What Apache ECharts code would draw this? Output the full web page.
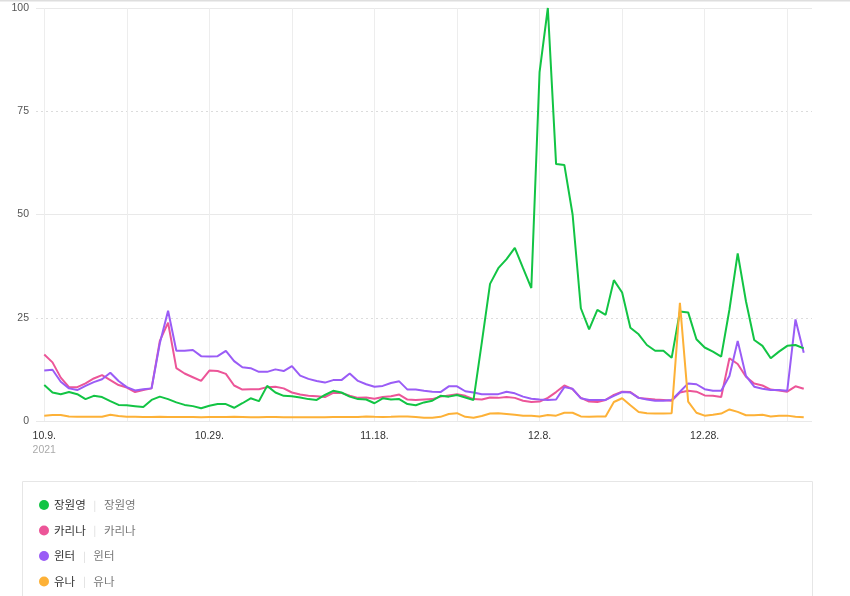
<!DOCTYPE html>
<html><head><meta charset="utf-8">
<script src="https://cdn.jsdelivr.net/npm/echarts@6/dist/echarts.min.js"></script>
<style>html,body{margin:0;padding:0;background:#fff}#c{width:850px;height:596px}</style>
</head><body><div id="c"></div>
<script>
// day labels, 2021-10-09 .. 2022-01-09
const dates = [
 '10.9.','10.10.','10.11.','10.12.','10.13.','10.14.','10.15.','10.16.','10.17.','10.18.',
 '10.19.','10.20.','10.21.','10.22.','10.23.','10.24.','10.25.','10.26.','10.27.','10.28.',
 '10.29.','10.30.','10.31.','11.1.','11.2.','11.3.','11.4.','11.5.','11.6.','11.7.',
 '11.8.','11.9.','11.10.','11.11.','11.12.','11.13.','11.14.','11.15.','11.16.','11.17.',
 '11.18.','11.19.','11.20.','11.21.','11.22.','11.23.','11.24.','11.25.','11.26.','11.27.',
 '11.28.','11.29.','11.30.','12.1.','12.2.','12.3.','12.4.','12.5.','12.6.','12.7.',
 '12.8.','12.9.','12.10.','12.11.','12.12.','12.13.','12.14.','12.15.','12.16.','12.17.',
 '12.18.','12.19.','12.20.','12.21.','12.22.','12.23.','12.24.','12.25.','12.26.','12.27.',
 '12.28.','12.29.','12.30.','12.31.','1.1.','1.2.','1.3.','1.4.','1.5.','1.6.',
 '1.7.','1.8.','1.9.'
];
const yearLabel = '2021';
const labelDays = [0, 20, 40, 60, 80];
const gridDays = [0, 10, 20, 30, 40, 50, 60, 70, 80, 90];
const seriesNames = ['장원영', '카리나', '윈터', '유나'];

const jangWonyoung = [
 8.7, 6.9, 6.5, 7.0, 6.5, 5.3, 6.1, 5.8, 4.8, 3.9,
 3.8, 3.6, 3.4, 5.1, 5.9, 5.3, 4.5, 3.9, 3.6, 3.1,
 3.7, 4.1, 4.1, 3.2, 4.3, 5.5, 4.8, 8.5, 6.9, 6.1,
 6.0, 5.7, 5.3, 5.1, 6.3, 7.3, 6.9, 5.9, 5.3, 5.2,
 4.3, 5.5, 5.2, 5.3, 4.1, 3.8, 4.5, 4.9, 6.1, 5.9,
 6.3, 5.7, 5.1, 19.0, 33.2, 37.0, 39.2, 41.9, 37.0, 32.2,
 84.5, 100, 62.2, 62.0, 50.0, 27.3, 22.2, 26.9, 25.7, 34.1,
 31.1, 22.6, 21.0, 18.4, 17.0, 17.0, 15.3, 26.5, 26.3, 19.8,
 17.8, 16.8, 15.6, 27.0, 40.6, 29.0, 19.6, 18.2, 15.2, 16.8,
 18.2, 18.4, 17.6
];
const karina = [
 16.1, 14.2, 10.5, 8.2, 8.2, 9.1, 10.3, 11.1, 9.9, 8.7,
 8.1, 7.0, 7.5, 7.9, 19.4, 23.8, 12.8, 11.5, 10.6, 9.7,
 12.2, 12.1, 11.4, 8.6, 7.6, 7.7, 7.7, 8.2, 8.3, 7.9,
 6.9, 6.4, 6.1, 6.0, 5.8, 6.8, 6.8, 6.1, 5.6, 5.7,
 5.4, 5.8, 6.0, 6.4, 5.2, 5.1, 5.2, 5.3, 5.9, 6.2,
 6.5, 6.1, 5.3, 5.2, 5.7, 5.6, 5.8, 5.6, 4.9, 4.6,
 4.7, 5.6, 7.0, 8.6, 7.7, 5.6, 4.7, 4.6, 5.1, 6.3,
 7.1, 7.0, 5.6, 5.4, 5.2, 5.1, 4.9, 6.9, 7.3, 7.1,
 6.2, 6.1, 5.8, 15.2, 13.8, 10.7, 9.1, 8.6, 7.6, 7.4,
 7.1, 8.4, 7.8
];
const winter = [
 12.2, 12.4, 9.5, 7.9, 7.5, 8.5, 9.4, 10.1, 11.7, 9.7,
 8.2, 7.4, 7.7, 7.9, 18.8, 26.7, 17.0, 17.0, 17.2, 15.7,
 15.6, 15.7, 17.0, 14.5, 13.0, 12.8, 11.9, 11.9, 12.5, 12.1,
 13.3, 11.0, 10.2, 9.7, 9.3, 9.9, 9.9, 11.5, 9.7, 8.9,
 8.3, 8.5, 9.2, 9.6, 7.6, 7.6, 7.3, 7.1, 7.0, 8.4,
 8.4, 7.2, 6.9, 6.5, 6.5, 6.5, 7.1, 6.7, 5.9, 5.4,
 5.2, 5.1, 5.2, 8.2, 7.8, 5.5, 5.1, 5.1, 5.1, 6.1,
 7.0, 6.9, 5.6, 5.2, 4.9, 4.9, 5.1, 7.1, 9.1, 8.9,
 7.7, 7.3, 7.3, 10.9, 19.4, 10.9, 8.3, 7.8, 7.5, 7.5,
 7.3, 24.6, 16.5
];
const yuna = [
 1.3, 1.45, 1.45, 1.1, 1.0, 1.0, 1.0, 1.05, 1.5, 1.2,
 1.0, 1.0, 0.95, 0.95, 1.0, 0.95, 0.95, 0.95, 0.95, 0.9,
 0.95, 0.95, 0.95, 1.0, 0.95, 0.9, 0.9, 0.95, 0.95, 0.9,
 0.9, 0.9, 0.9, 0.9, 0.9, 0.95, 0.95, 0.95, 0.95, 1.1,
 1.0, 0.95, 1.0, 1.1, 1.1, 0.95, 0.8, 0.8, 1.0, 1.7,
 1.9, 1.0, 0.8, 1.2, 1.8, 1.9, 1.7, 1.5, 1.3, 1.3,
 1.1, 1.45, 1.3, 2.0, 2.0, 1.1, 1.05, 1.1, 1.1, 4.6,
 5.5, 3.8, 2.2, 1.9, 1.8, 1.8, 1.9, 28.6, 4.7, 2.0,
 1.3, 1.5, 1.8, 2.8, 2.2, 1.4, 1.4, 1.5, 1.1, 1.3,
 1.3, 1.05, 0.9
];

const colors = ['#12c444', '#ec5598', '#9a5cf6', '#fdb137'];
const values = [jangWonyoung, karina, winter, yuna];
const drawOrder = [1, 2, 0, 3];

const chart = echarts.init(document.getElementById('c'), null, {renderer: 'canvas'});
const numFont = '"Liberation Sans Narrow", "Liberation Sans", sans-serif';
const krFont = '"Noto Sans CJK KR", sans-serif';

chart.setOption({
  animation: false,
  color: colors,
  grid: {left: 36, right: 38, top: 8, bottom: 175, containLabel: false},
  xAxis: {
    type: 'value', min: -1, max: 93,
    axisLine: {show: false},
    axisTick: {show: false, customValues: gridDays},
    splitLine: {show: true, lineStyle: {color: '#ededed', width: 1}},
    axisLabel: {
      customValues: labelDays,
      color: '#333', fontSize: 10.5, fontFamily: numFont, margin: 8, lineHeight: 14,
      formatter: v => v === 0 ? dates[v] + '\n{yr|' + yearLabel + '}' : dates[v],
      rich: {yr: {color: '#aaa', fontSize: 10.5, fontFamily: numFont, lineHeight: 14}}
    }
  },
  yAxis: [{
    type: 'value', min: 0, max: 100, interval: 25,
    axisLine: {show: false}, axisTick: {show: false},
    axisLabel: {color: '#555', fontSize: 10.5, fontFamily: numFont, margin: 7},
    splitLine: {lineStyle: {color: '#dcdcdc', type: [2, 3]}}
  }, {
    type: 'value', min: 0, max: 100, interval: 50, position: 'left',
    axisLine: {show: false}, axisTick: {show: false}, axisLabel: {show: false},
    splitLine: {lineStyle: {color: '#e9e9e9'}}
  }],
  legend: {
    orient: 'vertical', left: 39, top: 498, padding: 0, height: 120,
    data: seriesNames,
    icon: 'circle', itemWidth: 10, itemHeight: 10, itemGap: 11.5,
    formatter: n => '{n|' + n + '}   {s||}   {m|' + n + '}',
    textStyle: {
      fontFamily: krFont, fontSize: 11.5, lineHeight: 14,
      rich: {
        n: {color: '#333', fontSize: 11.5, fontFamily: krFont, lineHeight: 14},
        s: {color: '#d8d8d8', fontSize: 10, fontFamily: krFont, lineHeight: 14},
        m: {color: '#777', fontSize: 11.5, fontFamily: krFont, lineHeight: 14}
      }
    }
  },
  graphic: [
    {type: 'rect', left: 0, top: 0, shape: {width: 850, height: 1.5}, style: {fill: '#dedede'}, silent: true},
    {type: 'rect', left: 20, top: 479, shape: {width: 790, height: 140}, style: {fill: 'none', stroke: '#e6e6e6', lineWidth: 1}, silent: true, z: -1}
  ],
  series: drawOrder.map(k => ({
    name: seriesNames[k],
    type: 'line',
    yAxisIndex: 0,
    symbol: 'none',
    color: colors[k],
    lineStyle: {width: 2, color: colors[k]},
    data: values[k].map((v, i) => [i, v])
  }))
});
</script>
</body></html>
